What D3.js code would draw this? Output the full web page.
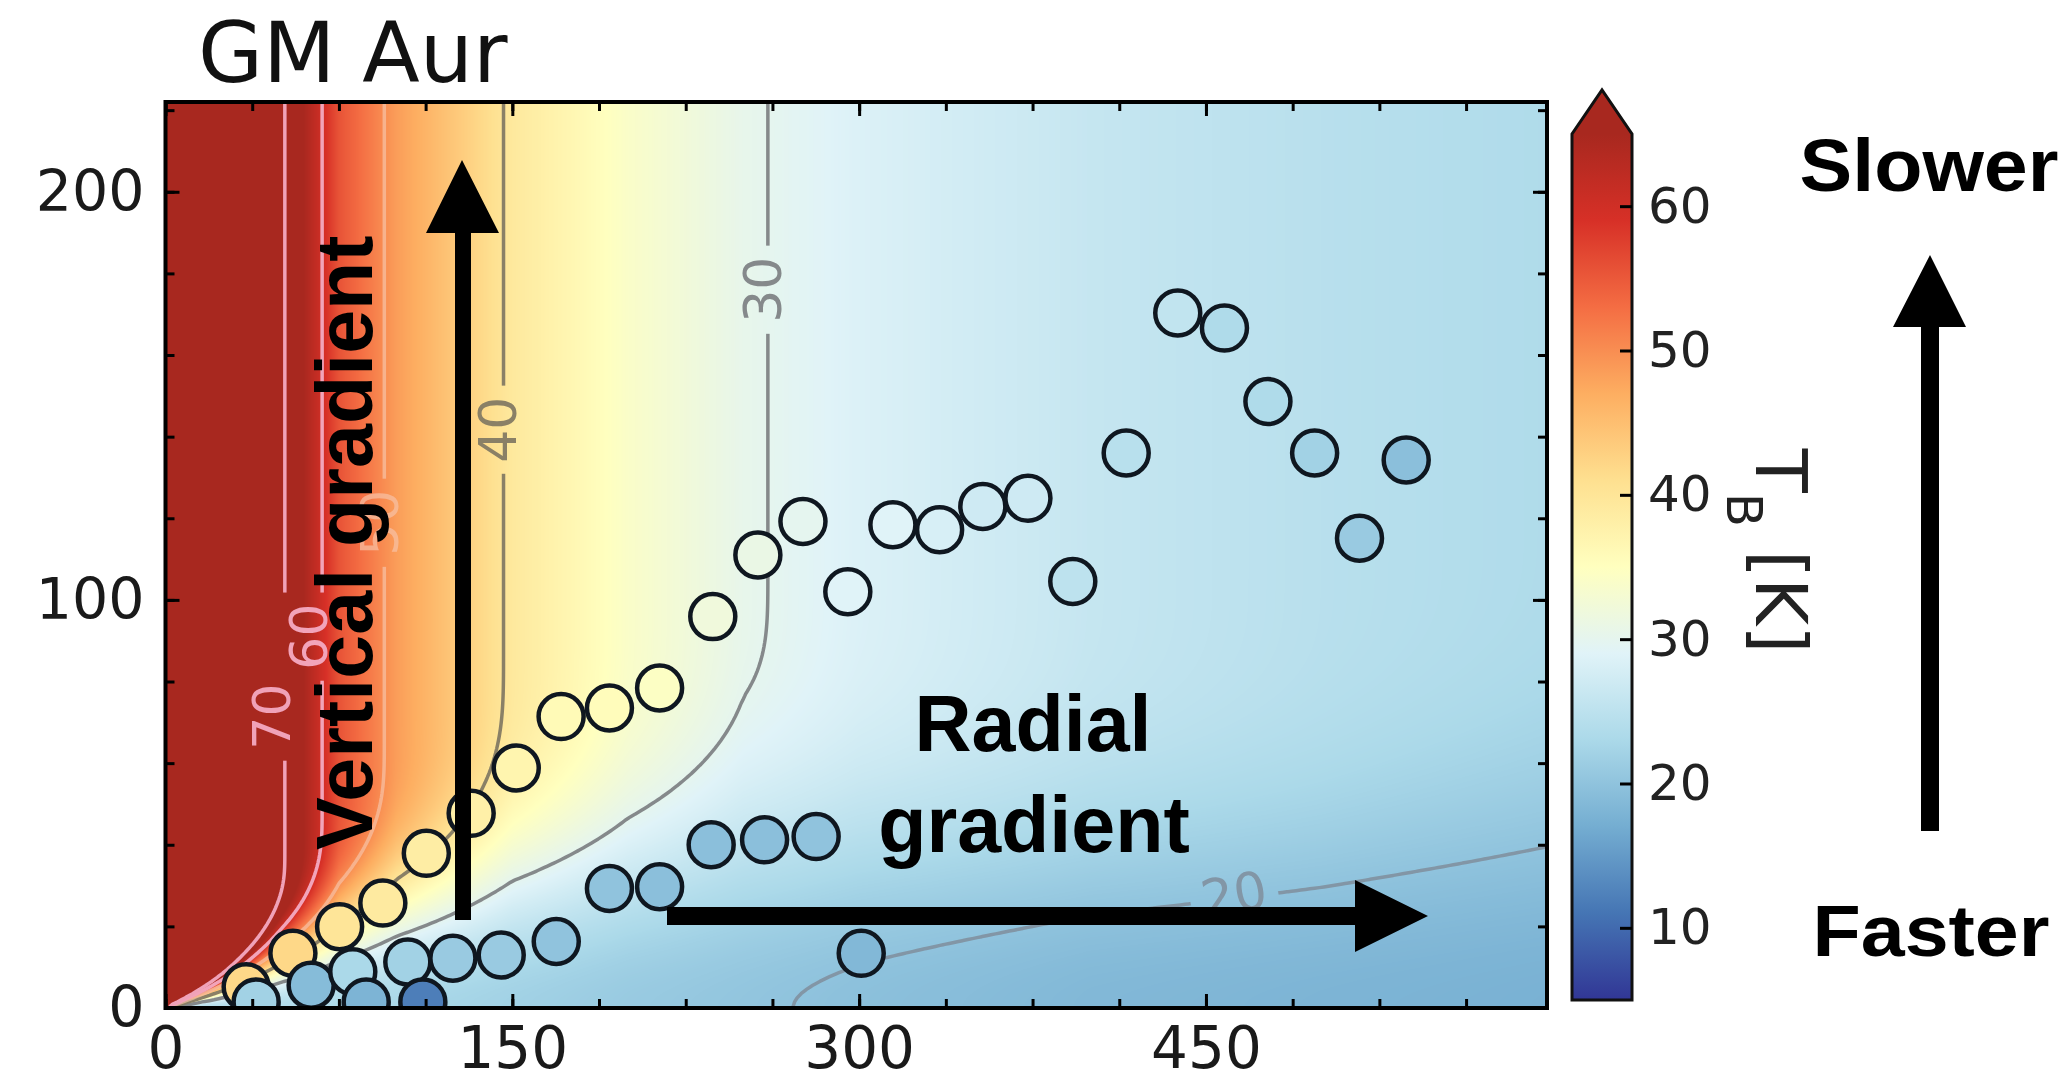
<!DOCTYPE html>
<html>
<head>
<meta charset="utf-8">
<script src="https://cdn.jsdelivr.net/npm/d3@7"></script>
<style>
    body { margin: 0; background: #fff; }
    svg text { font-family: "DejaVu Sans", sans-serif; }
    .note { font-family: "Liberation Sans", Arial, sans-serif; font-weight: bold; fill: #000; }
    .tick line { stroke: #000; stroke-width: 3; }
    .tick text { fill: #1a1a1a; }
</style>
</head>
<body>
<svg id="chart" width="2071" height="1082"></svg>
<script>
// Emission surface points, upper chain (r, z in au; brightness temperature in K)
const upperR = [34.9, 55.1, 75.3, 94.0, 112.8, 132.2, 151.7, 171.1, 192.0, 213.7, 236.7, 256.2, 275.7,
    295.1, 314.6, 334.8, 353.5, 373.0, 392.4, 415.5, 437.8, 458.0, 476.8, 497.0, 516.4, 536.6];
const upperZ = [5.2, 13.4, 19.9, 25.7, 37.9, 47.7, 58.8, 71.4, 73.5, 78.4, 95.9, 111.0, 119.2,
    102.0, 118.4, 117.2, 122.9, 124.9, 104.5, 136.0, 170.3, 166.6, 148.6, 136.0, 115.1, 134.3];
const upperT = [42, 42, 40, 39, 38.5, 38, 37, 36, 35.5, 34.5, 32, 31, 30,
    29, 29, 28, 27, 27, 25, 24.5, 25.5, 23.5, 23.5, 22, 21, 19.5];

// lower chain
const lowerR = [39.2, 63.0, 81.0, 86.8, 104.8, 111.3, 124.3, 145.2, 169.0, 192.0, 213.7, 236.0, 259.1, 281.4, 300.9];
const lowerZ = [1.5, 5.6, 8.9, 1.5, 11.3, 1.5, 12.2, 13.0, 16.3, 29.3, 29.7, 40.0, 41.2, 42.0, 13.4];
const lowerT = [22, 19, 23, 18, 22, 12, 21, 21, 20, 20, 19.5, 19.5, 19.5, 20, 18.5];

// temperature structure behind the points
const profileR = [0, 25, 50, 75, 100, 150, 200, 250, 300, 400, 500, 600];
const tAtm = [110, 88, 71, 55.5, 48.5, 39.3, 34, 30.4, 28.5, 26, 24.5, 23.5];
const tMid = [24, 24, 24, 23.5, 23, 22, 21, 20.3, 19.6, 18.5, 18, 17.6];
const zLayer = [0, 18, 38, 55, 70, 90, 100, 108, 110, 108, 110, 125];

// contour levels and where their labels sit
const contourLevels = [20, 30, 40, 50, 60, 70];
const contourColors = ["#8296a6", "#85898b", "#8a8066", "#f6c2a6", "#f2a4ba", "#f0a2b8"];
const labelR = [462, 258, 143.5, 92.6, 61.9, 45.7];
const labelZ = [28, 176, 141.7, 118.9, 91, 71.4];
const labelAngle = [-10, -90, -90, -90, -90, -90];

// axes
const xTicks = [0, 150, 300, 450];
const yTicks = [0, 100, 200];
const xMinorStep = 37.5, yMinorStep = 20;

// colour bar
const cbarStops = [5, 11, 17, 23, 29, 35, 41, 47, 53, 59, 65];
const cbarColors = ["#313695", "#4575b4", "#74add1", "#abd9e9", "#e0f3f8", "#ffffbf",
    "#fee090", "#fdae61", "#f46d43", "#d73027", "#a8281f"];
const cbarTicks = [10, 20, 30, 40, 50, 60];

const plot = { left: 165.5, right: 1547, top: 102, bottom: 1008 };
const svg = d3.select("#chart");

const x = d3.scaleLinear().domain([0, 597.5]).range([plot.left, plot.right]);
const y = d3.scaleLinear().domain([0, 222]).range([plot.bottom, plot.top]);
const color = d3.scaleLinear().domain(cbarStops).range(cbarColors).clamp(true);

const atm = d3.scaleLinear().domain(profileR).range(tAtm).clamp(true);
const mid = d3.scaleLinear().domain(profileR).range(tMid).clamp(true);
const layer = d3.scaleLinear().domain(profileR).range(zLayer).clamp(true);

function temperature(r, z) {
    r = Math.abs(r); z = Math.abs(z);
    const ta = atm(r), tm = mid(r), zq = layer(r);
    if (z >= zq) return ta;
    const c = Math.cos(Math.PI * z / (2 * zq));
    return ta + (tm - ta) * c * c * c * c;
}

const defs = svg.append("defs");
defs.append("clipPath").attr("id", "plotClip")
    .append("rect")
    .attr("x", plot.left).attr("y", plot.top)
    .attr("width", plot.right - plot.left).attr("height", plot.bottom - plot.top);

// ---- temperature map as an image
const tMin = cbarStops[0], tMax = cbarStops[cbarStops.length - 1];
const lut = d3.range(1024).map(i => d3.rgb(color(tMin + (tMax - tMin) * i / 1023)));
const cw = Math.round(plot.right - plot.left), ch = Math.round(plot.bottom - plot.top);
const canvas = document.createElement("canvas");
canvas.width = cw; canvas.height = ch;
const ctx = canvas.getContext("2d");
const img = ctx.createImageData(cw, ch);
for (let i = 0; i < cw; i++) {
    const r = x.invert(plot.left + i + 0.5);
    for (let j = 0; j < ch; j++) {
        const t = temperature(r, y.invert(plot.top + j + 0.5));
        const k = Math.max(0, Math.min(1023, Math.round((t - tMin) / (tMax - tMin) * 1023)));
        const c = lut[k], p = (j * cw + i) * 4;
        img.data[p] = c.r; img.data[p + 1] = c.g; img.data[p + 2] = c.b; img.data[p + 3] = 255;
    }
}
ctx.putImageData(img, 0, 0);
svg.append("image")
    .attr("x", plot.left).attr("y", plot.top)
    .attr("width", cw).attr("height", ch)
    .attr("preserveAspectRatio", "none")
    .attr("href", canvas.toDataURL());

// ---- contours
const r0 = -12, dr = 2, z0 = -12, dz = 1;
const nx = 312, ny = 250;
const grid = new Float64Array(nx * ny);
for (let j = 0; j < ny; j++)
    for (let i = 0; i < nx; i++)
        grid[j * nx + i] = temperature(r0 + (i + 0.5) * dr, z0 + (j + 0.5) * dz);
const isos = d3.contours().size([nx, ny]).thresholds(contourLevels)(grid);
const toPlot = d3.geoTransform({
    point: function(px, py) { this.stream.point(x(r0 + px * dr), y(z0 + py * dz)); }
});
const contourPath = d3.geoPath(toPlot);

const labelFont = 52;
const mask = defs.append("mask").attr("id", "labelGap")
    .attr("maskUnits", "userSpaceOnUse")
    .attr("x", 0).attr("y", 0).attr("width", 2071).attr("height", 1082);
mask.append("rect").attr("width", 2071).attr("height", 1082).attr("fill", "#fff");
contourLevels.forEach((lv, k) => {
    const len = String(lv).length * 0.636 * labelFont + 22;
    mask.append("rect")
        .attr("x", -len / 2).attr("y", -labelFont * 0.5)
        .attr("width", len).attr("height", labelFont)
        .attr("fill", "#000")
        .attr("transform", `translate(${x(labelR[k])},${y(labelZ[k])}) rotate(${labelAngle[k]})`);
});

svg.append("g").attr("clip-path", "url(#plotClip)")
    .append("g").attr("mask", "url(#labelGap)")
    .selectAll("path")
    .data(isos)
    .enter().append("path")
    .attr("d", contourPath)
    .attr("fill", "none")
    .attr("stroke", (d, i) => contourColors[i])
    .attr("stroke-opacity", (d, i) => contourLevels[i] === 50 ? 0.7 : 1)
    .attr("stroke-width", 3.5);

svg.append("g").selectAll("text")
    .data(contourLevels)
    .enter().append("text")
    .attr("transform", (d, k) => `translate(${x(labelR[k])},${y(labelZ[k])}) rotate(${labelAngle[k]})`)
    .attr("text-anchor", "middle")
    .attr("dy", "0.36em")
    .style("font-size", labelFont + "px")
    .style("fill", (d, k) => contourColors[k])
    .style("fill-opacity", d => d === 50 ? 0.7 : 1)
    .text(d => d);

// ---- points
const points = upperR.map((r, i) => ({ r: r, z: upperZ[i], t: upperT[i] }))
    .concat(lowerR.map((r, i) => ({ r: r, z: lowerZ[i], t: lowerT[i] })));

svg.append("g").attr("clip-path", "url(#plotClip)")
    .selectAll("circle")
    .data(points)
    .enter().append("circle")
    .attr("cx", d => x(d.r))
    .attr("cy", d => y(d.z))
    .attr("r", 22.5)
    .style("fill", d => color(d.t))
    .style("stroke", "#0f1720")
    .style("stroke-width", 4.5);

// ---- axes (ticks point inwards on all four sides)
const xMinor = d3.range(0, 597.5, xMinorStep);
const yMinor = d3.range(0, 222, yMinorStep);
const noLabel = () => "";

function addAxis(axis, tx, ty) {
    svg.append("g")
        .attr("transform", `translate(${tx},${ty})`)
        .call(axis)
        .call(g => g.select(".domain").remove());
}

addAxis(d3.axisBottom(x).tickValues(xMinor).tickSize(-9).tickFormat(noLabel), 0, plot.bottom);
addAxis(d3.axisTop(x).tickValues(xMinor).tickSize(-9).tickFormat(noLabel), 0, plot.top);
addAxis(d3.axisLeft(y).tickValues(yMinor).tickSize(-9).tickFormat(noLabel), plot.left, 0);
addAxis(d3.axisRight(y).tickValues(yMinor).tickSize(-9).tickFormat(noLabel), plot.right, 0);
addAxis(d3.axisTop(x).tickValues(xTicks).tickSize(-14).tickFormat(noLabel), 0, plot.top);
addAxis(d3.axisRight(y).tickValues(yTicks).tickSize(-14).tickFormat(noLabel), plot.right, 0);

svg.append("g")
    .attr("transform", `translate(0,${plot.bottom})`)
    .call(d3.axisBottom(x).tickValues(xTicks).tickSize(-14).tickPadding(19))
    .call(g => g.select(".domain").remove())
    .selectAll("text").style("font-size", "58px");

svg.append("g")
    .attr("transform", `translate(${plot.left},0)`)
    .call(d3.axisLeft(y).tickValues(yTicks).tickSize(-14).tickPadding(21))
    .call(g => g.select(".domain").remove())
    .selectAll("text").style("font-size", "57px");

svg.append("rect")
    .attr("x", plot.left).attr("y", plot.top)
    .attr("width", plot.right - plot.left).attr("height", plot.bottom - plot.top)
    .attr("fill", "none").attr("stroke", "#000").attr("stroke-width", 4);

svg.append("text")
    .attr("x", 198).attr("y", 82)
    .style("font-size", "84px").style("fill", "#111")
    .text("GM Aur");

// ---- colour bar
const cb = { left: 1572, right: 1632, tip: 90 };
const cy = d3.scaleLinear().domain([tMin, tMax]).range([1000, 134]);
const grad = defs.append("linearGradient").attr("id", "cbarGrad")
    .attr("x1", 0).attr("y1", 1).attr("x2", 0).attr("y2", 0);
cbarStops.forEach((s, i) => {
    grad.append("stop")
        .attr("offset", (s - tMin) / (tMax - tMin))
        .attr("stop-color", cbarColors[i]);
});
svg.append("rect")
    .attr("x", cb.left).attr("y", cy(tMax))
    .attr("width", cb.right - cb.left).attr("height", cy(tMin) - cy(tMax))
    .attr("fill", "url(#cbarGrad)");
const cbOutline = `M${cb.left},${cy(tMin)} L${cb.left},${cy(tMax)} L${(cb.left + cb.right) / 2},${cb.tip} ` +
    `L${cb.right},${cy(tMax)} L${cb.right},${cy(tMin)} Z`;
svg.append("path")
    .attr("d", `M${cb.left},${cy(tMax)} L${(cb.left + cb.right) / 2},${cb.tip} L${cb.right},${cy(tMax)} Z`)
    .attr("fill", cbarColors[cbarColors.length - 1]);
svg.append("path").attr("d", cbOutline)
    .attr("fill", "none").attr("stroke", "#111").attr("stroke-width", 3);

svg.append("g")
    .attr("transform", `translate(${cb.right},0)`)
    .call(d3.axisRight(cy).tickValues(cbarTicks).tickSize(-12).tickPadding(16))
    .call(g => g.select(".domain").remove())
    .selectAll("text").style("font-size", "50px").style("fill", "#222");

const cbLabel = svg.append("text")
    .attr("transform", "translate(1756,551) rotate(90)")
    .attr("text-anchor", "middle")
    .style("font-size", "72px").style("fill", "#222");
cbLabel.append("tspan").text("T");
cbLabel.append("tspan").attr("baseline-shift", "sub").style("font-size", "50px").text("B");
cbLabel.append("tspan").text(" [K]");

// ---- annotations
svg.append("text").attr("class", "note")
    .attr("transform", "translate(372,850) rotate(-90)")
    .style("font-size", "79px")
    .text("Vertical gradient");

svg.append("path")
    .attr("d", "M455,920 L455,233 L426,233 L462,160 L499,233 L471,233 L471,920 Z")
    .attr("fill", "#000");

svg.append("text").attr("class", "note")
    .attr("x", 1033).attr("y", 751).attr("text-anchor", "middle")
    .style("font-size", "79px").text("Radial");
svg.append("text").attr("class", "note")
    .attr("x", 1034).attr("y", 852).attr("text-anchor", "middle")
    .style("font-size", "79px").text("gradient");

svg.append("path")
    .attr("d", "M667,907 L1355,907 L1355,880 L1428,916 L1355,952 L1355,925 L667,925 Z")
    .attr("fill", "#000");

svg.append("text").attr("class", "note")
    .attr("x", 1929).attr("y", 191).attr("text-anchor", "middle")
    .attr("textLength", 259).attr("lengthAdjust", "spacingAndGlyphs")
    .style("font-size", "74px").text("Slower");
svg.append("text").attr("class", "note")
    .attr("x", 1931).attr("y", 956).attr("text-anchor", "middle")
    .attr("textLength", 237).attr("lengthAdjust", "spacingAndGlyphs")
    .style("font-size", "72px").text("Faster");

svg.append("path")
    .attr("d", "M1921,831 L1921,327 L1893,327 L1930,255 L1966,327 L1939,327 L1939,831 Z")
    .attr("fill", "#000");
</script>
</body>
</html>
